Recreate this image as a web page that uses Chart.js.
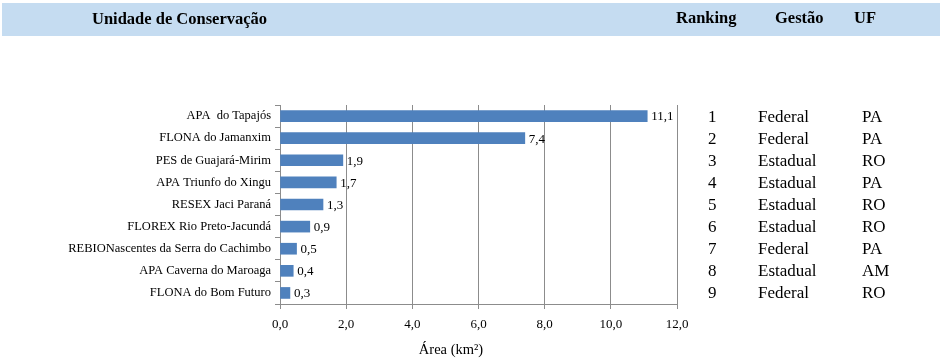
<!DOCTYPE html>
<html>
<head>
<meta charset="utf-8">
<script src="https://cdn.jsdelivr.net/npm/chart.js@4"></script>
<style>
  html, body { margin: 0; padding: 0; background: #fff; }
  #wrap { width: 944px; height: 364px; position: relative; }
</style>
</head>
<body>
<div id="wrap"><canvas id="chart" width="944" height="364"></canvas></div>
<script>
const unidades = [
  'APA  do Tapajós',
  'FLONA do Jamanxim',
  'PES de Guajará-Mirim',
  'APA Triunfo do Xingu',
  'RESEX Jaci Paraná',
  'FLOREX Rio Preto-Jacundá',
  'REBIONascentes da Serra do Cachimbo',
  'APA Caverna do Maroaga',
  'FLONA do Bom Futuro'
];
const areas = [11.1, 7.4, 1.9, 1.7, 1.3, 0.9, 0.5, 0.4, 0.3];
const ranking = ['1', '2', '3', '4', '5', '6', '7', '8', '9'];
const gestao = ['Federal', 'Federal', 'Estadual', 'Estadual', 'Estadual', 'Estadual', 'Federal', 'Estadual', 'Federal'];
const uf = ['PA', 'PA', 'RO', 'PA', 'RO', 'RO', 'PA', 'AM', 'RO'];
const cabecalho = ['Unidade de Conservação', 'Ranking', 'Gestão', 'UF'];
const tituloX = 'Área (km²)';

const SERIF = '"Liberation Serif", "Times New Roman", serif';
const fmt = (v) => v.toFixed(1).replace('.', ',');

const extras = {
  id: 'extras',
  beforeDraw(chart) {
    const ctx = chart.ctx;
    ctx.save();
    ctx.fillStyle = '#c5dcf1';
    ctx.fillRect(2, 3, 938, 33);
    ctx.fillStyle = '#000';
    ctx.font = 'bold 16.5px ' + SERIF;
    ctx.textBaseline = 'middle';
    ctx.textAlign = 'left';
    ctx.fillText(cabecalho[0], 92, 20);
    ctx.fillText(cabecalho[1], 676, 19);
    ctx.fillText(cabecalho[2], 775, 19);
    ctx.fillText(cabecalho[3], 854, 19);
    ctx.restore();
  },
  afterDraw(chart) {
    const ctx = chart.ctx;
    const y = chart.scales.y;
    const x = chart.scales.x;
    ctx.save();
    ctx.fillStyle = '#000';
    ctx.textBaseline = 'middle';
    ctx.textAlign = 'left';
    ctx.font = '13px ' + SERIF;
    areas.forEach((v, i) => {
      ctx.fillText(fmt(v), x.getPixelForValue(v) + 4, y.getPixelForValue(i) + 1);
    });
    ctx.textAlign = 'center';
    ctx.font = '14.5px ' + SERIF;
    ctx.fillText(tituloX, 451, 350);
    ctx.textAlign = 'left';
    ctx.font = '17px ' + SERIF;
    unidades.forEach((u, i) => {
      const py = y.getPixelForValue(i) + 1;
      ctx.fillText(ranking[i], 708, py);
      ctx.fillText(gestao[i], 758, py);
      ctx.fillText(uf[i], 862, py);
    });
    ctx.restore();
  }
};

new Chart(document.getElementById('chart'), {
  type: 'bar',
  data: {
    labels: unidades,
    datasets: [{
      data: areas,
      backgroundColor: '#4f81bd',
      borderWidth: 0,
      barThickness: 11
    }]
  },
  options: {
    indexAxis: 'y',
    responsive: false,
    animation: false,
    layout: { padding: { top: 105, right: 267, bottom: 4, left: 0 } },
    plugins: { legend: { display: false }, tooltip: { enabled: false } },
    scales: {
      x: {
        min: 0,
        max: 12,
        ticks: {
          stepSize: 2,
          color: '#000',
          font: { family: SERIF, size: 13 },
          padding: 8,
          callback: (v) => fmt(v)
        },
        grid: { color: '#8c8c8c', tickLength: 5, drawTicks: true },
        border: { color: '#8c8c8c' },
        afterFit: (s) => { s.height = 56; }
      },
      y: {
        ticks: {
          color: '#000',
          font: { family: SERIF, size: 12.5 },
          padding: 4
        },
        grid: { offset: true, drawOnChartArea: false, color: '#8c8c8c', tickLength: 5 },
        border: { color: '#8c8c8c' },
        afterFit: (s) => { s.width = 280; }
      }
    }
  },
  plugins: [extras]
});
</script>
</body>
</html>
